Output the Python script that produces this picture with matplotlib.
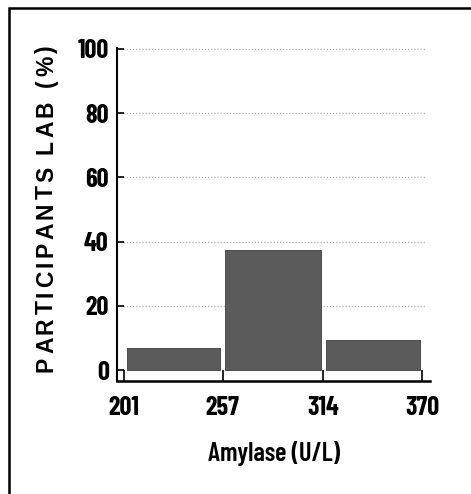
import matplotlib.pyplot as plt
from matplotlib import font_manager

# histogram data
bin_edges = [201, 257, 314, 370]
percent = [7.0, 37.4, 9.4]
y_ticks = [0, 20, 40, 60, 80, 100]
y_title = "PARTICIPANTS LAB (%)"
x_title = "Amylase (U/L)"

names = {f.name for f in font_manager.fontManager.ttflist}
cond = [n for n in ["Liberation Sans Narrow", "Barlow Condensed", "Archivo Narrow"] if n in names]
cond_family = cond + ["Liberation Sans", "DejaVu Sans"]

W, H = 471, 494
fig = plt.figure(figsize=(W / 100, H / 100), dpi=100)
ax = fig.add_axes([117 / W, (H - 381) / H, 313 / W, 333 / H])

gap = 1.4
lefts = [a + gap for a in bin_edges[:-1]]
widths = [b - a - 2 * gap for a, b in zip(bin_edges[:-1], bin_edges[1:])]
ax.bar(lefts, percent, width=widths, align="edge", color="#5b5b5b",
       edgecolor="#3d3d3d", linewidth=0.6, zorder=3)

for y in y_ticks[1:]:
    ax.plot([198.5, 372.5], [y, y], color="#b0b0b0", linestyle=(0, (1, 1.5)),
            linewidth=0.9, zorder=1)

ax.set_xlim(197.0, 374.5)
ax.set_ylim(-3.4, 100.3)
ax.set_xticks(bin_edges)
ax.set_yticks(y_ticks)
ax.set_xticklabels([str(v) for v in bin_edges], family=cond_family,
                   fontweight="bold", fontsize=19)
ax.set_yticklabels([str(v) for v in y_ticks], family=cond_family,
                   fontweight="bold", fontsize=19)
ax.tick_params(axis="x", direction="in", length=8, width=1.2, pad=11)
ax.tick_params(axis="y", direction="in", length=5, width=1.2, pad=6)

for side in ["top", "right"]:
    ax.spines[side].set_visible(False)
ax.spines["left"].set_linewidth(1.5)
ax.spines["bottom"].set_linewidth(1.8)

ax.set_xlabel(x_title, family=cond_family, fontweight="semibold",
              fontsize=19, labelpad=15)

# y title with spread letters, placed character by character
fig.canvas.draw()
rend = fig.canvas.get_renderer()
fs = 16.5
yprops = dict(fontsize=fs, fontweight="bold", family=["Liberation Sans", "DejaVu Sans"])


def text_w(s):
    t = fig.text(0, 0, s, **yprops)
    w = t.get_window_extent(rend).width
    t.remove()
    return w


base = text_w("XX")
adv = [text_w("X" + ch + "X") - base for ch in y_title]
target = 327.0
extra = (target - sum(adv)) / (len(y_title) - 1)
pos = (H - 372.0)
for ch, a in zip(y_title, adv):
    fig.text(46.5 / W, (pos + a / 2) / H, ch, rotation=90, ha="center",
             va="center", **yprops)
    pos += a + extra

# frame around the figure panel
fig.add_artist(plt.Rectangle((9 / W, -0.05), 1.2, 1 - 8 / H + 0.05,
                             transform=fig.transFigure, fill=False,
                             edgecolor="black", linewidth=1.8))

plt.savefig("out.png", dpi=100)
